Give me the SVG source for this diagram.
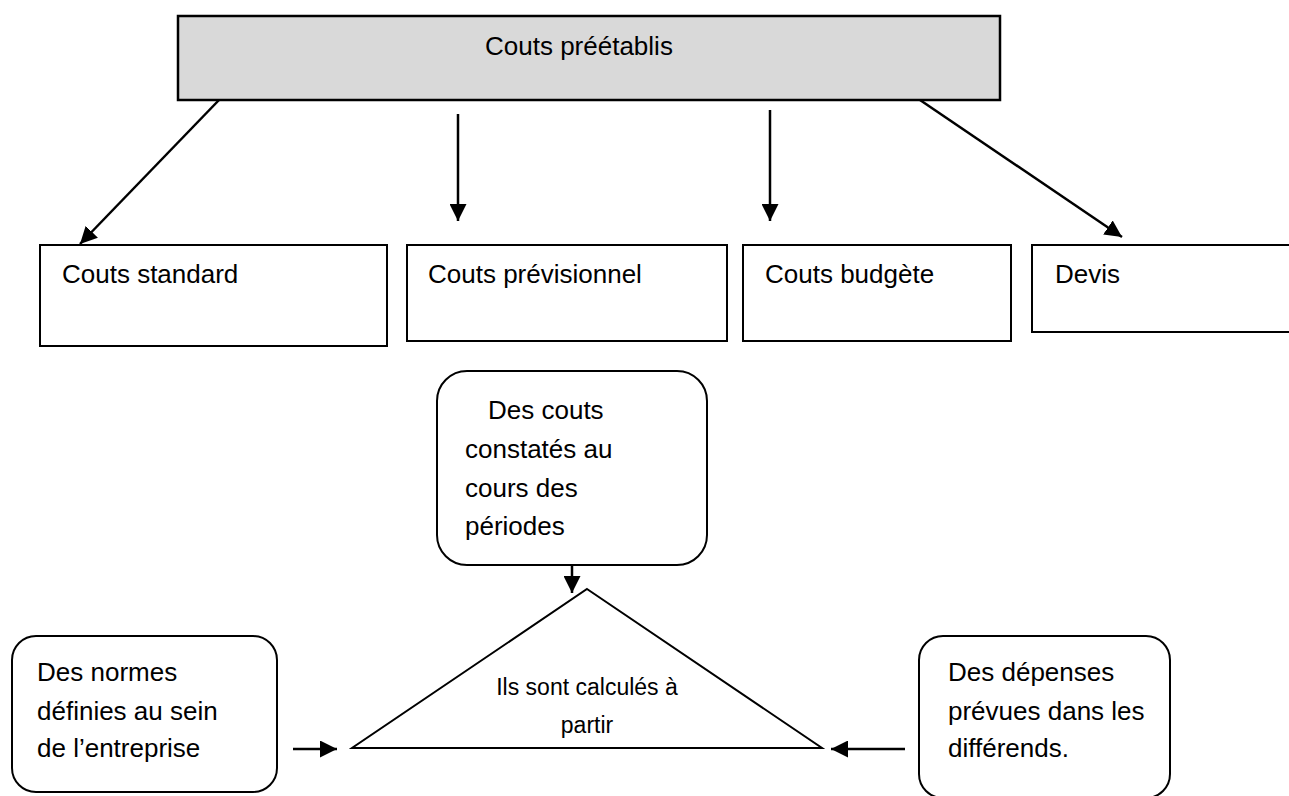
<svg xmlns="http://www.w3.org/2000/svg" width="1289" height="796" viewBox="0 0 1289 796">
  <style>
    .box { fill: #ffffff; stroke: #000000; stroke-width: 2; }
    .head { fill: #d9d9d9; stroke: #000000; stroke-width: 2.5; }
    .lbl { font-family: "Liberation Sans", Arial, sans-serif; font-size: 26px; fill: #000000; }
    .small { font-family: "Liberation Sans", Arial, sans-serif; font-size: 23px; fill: #000000; }
    .conn line { stroke: #000000; stroke-width: 2.5; marker-end: url(#arrow); }
  </style>
  <defs>
    <marker id="arrow" markerUnits="userSpaceOnUse" markerWidth="17" markerHeight="17" refX="17" refY="8.5" orient="auto">
      <path d="M0,0 L17,8.5 L0,17 z" fill="#000000"/>
    </marker>
  </defs>
  <rect width="1289" height="796" fill="#ffffff"/>

  <!-- header -->
  <g id="couts-preetablis">
    <rect class="head" x="178" y="16" width="822" height="84"/>
    <text class="lbl" x="485" y="55">Couts préétablis</text>
  </g>

  <!-- four kinds of cost -->
  <g id="couts-standard">
    <rect class="box" x="40" y="245" width="347" height="101"/>
    <text class="lbl" x="62" y="283">Couts standard</text>
  </g>
  <g id="couts-previsionnel">
    <rect class="box" x="407" y="245" width="320" height="96"/>
    <text class="lbl" x="428" y="283">Couts prévisionnel</text>
  </g>
  <g id="couts-budgete">
    <rect class="box" x="743" y="245" width="268" height="96"/>
    <text class="lbl" x="765" y="283">Couts budgète</text>
  </g>
  <g id="devis">
    <rect class="box" x="1032" y="245" width="270" height="87"/>
    <text class="lbl" x="1055" y="283">Devis</text>
  </g>

  <!-- sources -->
  <g id="couts-constates">
    <rect class="box" x="437" y="371" width="270" height="194" rx="30" ry="30"/>
    <text class="lbl" x="488" y="419">Des couts</text>
    <text class="lbl" x="465" y="458">constatés au</text>
    <text class="lbl" x="465" y="497">cours des</text>
    <text class="lbl" x="465" y="535">périodes</text>
  </g>
  <g id="calcul">
    <polygon class="box" points="587,589 822,748 352,748"/>
    <text class="small" x="587" y="695" text-anchor="middle">Ils sont calculés à</text>
    <text class="small" x="587" y="733" text-anchor="middle">partir</text>
  </g>
  <g id="normes">
    <rect class="box" x="12" y="636" width="265" height="156" rx="24" ry="24"/>
    <text class="lbl" x="37" y="681">Des normes</text>
    <text class="lbl" x="37" y="720">définies au sein</text>
    <text class="lbl" x="37" y="757">de l’entreprise</text>
  </g>
  <g id="depenses">
    <rect class="box" x="919" y="636" width="251" height="162" rx="24" ry="24"/>
    <text class="lbl" x="948" y="681">Des dépenses</text>
    <text class="lbl" x="948" y="720">prévues dans les</text>
    <text class="lbl" x="948" y="757">différends.</text>
  </g>

  <!-- connectors -->
  <g id="connectors" class="conn">
    <line x1="219" y1="100" x2="80" y2="244"/>
    <line x1="458" y1="114" x2="458" y2="221"/>
    <line x1="770" y1="110" x2="770" y2="221"/>
    <line x1="920" y1="100" x2="1122" y2="237"/>
    <line x1="572" y1="565" x2="572" y2="593"/>
    <line x1="293" y1="749" x2="337" y2="749"/>
    <line x1="905" y1="749" x2="831" y2="749"/>
  </g>
</svg>
